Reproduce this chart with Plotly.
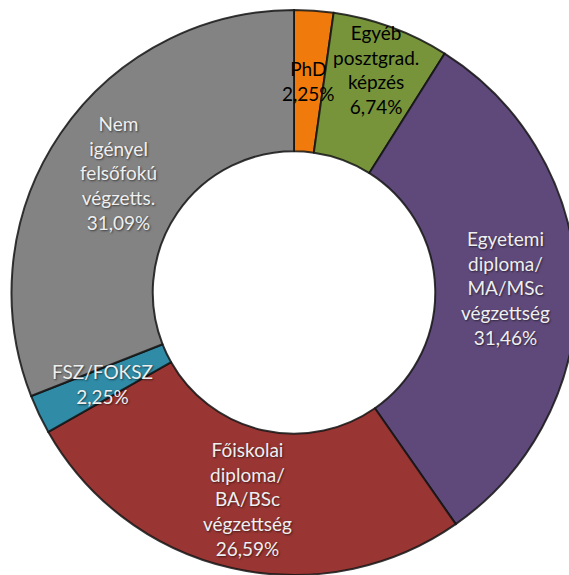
import math
import plotly.graph_objects as go

# Education level breakdown (share of respondents, %)
labels = [
    "PhD",
    "Egyéb posztgrad. képzés",
    "Egyetemi diploma/MA/MSc végzettség",
    "Főiskolai diploma/BA/BSc végzettség",
    "FSZ/FOKSZ",
    "Nem igényel felsőfokú végzetts.",
]
label_lines = [
    ["PhD"],
    ["Egyéb", "posztgrad.", "képzés"],
    ["Egyetemi", "diploma/", "MA/MSc", "végzettség"],
    ["Főiskolai", "diploma/", "BA/BSc", "végzettség"],
    ["FSZ/FOKSZ"],
    ["Nem", "igényel", "felsőfokú", "végzetts."],
]
values = [2.25, 6.74, 31.46, 26.59, 2.25, 31.09]

colors = ["#F07B0C", "#77943B", "#5F497A", "#993634", "#2F8BA6", "#838383"]
text_colors = ["#000000", "#000000", "#EFEFEF", "#EFEFEF", "#EFEFEF", "#EFEFEF"]
# radial position of each label, as a fraction of the outer radius
label_radius = [0.75, 0.84, 0.75, 0.75, 0.75, 0.75]

W, H = 577, 575
ML, MT = 11, 10
HOLE = 0.5

fig = go.Figure(
    go.Pie(
        labels=labels,
        values=values,
        sort=False,
        direction="clockwise",
        rotation=0,
        hole=HOLE,
        marker=dict(colors=colors, line=dict(color="rgba(20,20,20,0.85)", width=2)),
        textinfo="none",
        hoverinfo="label+percent",
        showlegend=False,
    )
)

# Place each label inside the ring, at the slice's mid angle
plot_w, plot_h = W - ML, H - MT
radius = min(plot_w, plot_h) / 2
total = sum(values)
cum = 0.0
annotations = []
for lines, v, tc, rf in zip(label_lines, values, text_colors, label_radius):
    ang = 2 * math.pi * (cum + v / 2) / total
    cum += v
    dx = radius * rf * math.sin(ang)
    dy = radius * rf * math.cos(ang)
    pct = f"{v:.2f}".replace(".", ",") + "%"
    annotations.append(
        dict(
            x=0.5 + dx / plot_w,
            y=0.5 + dy / plot_h,
            xref="paper",
            yref="paper",
            text="<br>".join(lines + [pct]),
            showarrow=False,
            font=dict(family="Lato", size=19, color=tc,
                      shadow="1px 1px 2px rgba(0,0,0,0.55)" if tc != "#000000" else "none"),
            align="center",
            xanchor="center",
            yanchor="middle",
        )
    )

fig.update_layout(
    width=W,
    height=H,
    margin=dict(l=ML, r=0, t=MT, b=0),
    paper_bgcolor="white",
    plot_bgcolor="white",
    annotations=annotations,
)

fig.write_html("out.html")
